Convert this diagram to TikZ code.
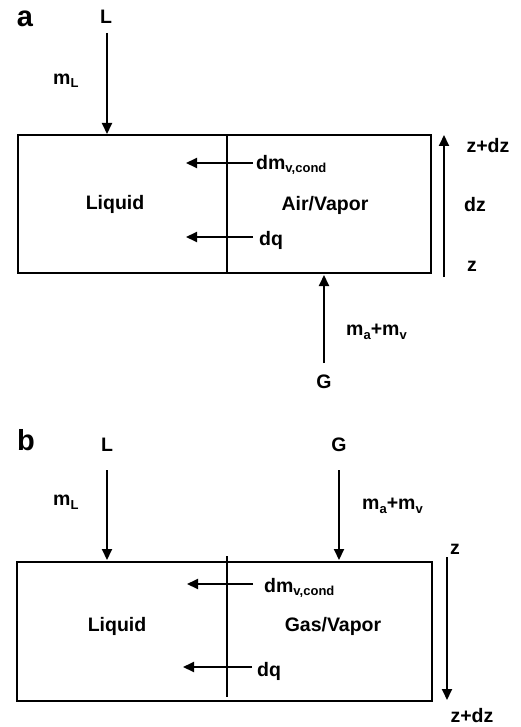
\documentclass[tikz,border=0pt]{standalone}
\usepackage{fontspec}
\setmainfont{Liberation Sans}
\usetikzlibrary{arrows.meta}
\newcommand\lowsub[1]{\raisebox{-3.5pt}{\fontsize{13pt}{14pt}\selectfont #1}}
\tikzset{
  lbl/.style={font=\fontsize{19.5pt}{21pt}\selectfont\bfseries, inner sep=0pt},
  panel/.style={font=\fontsize{29pt}{31pt}\selectfont\bfseries, inner sep=0pt},
  boxline/.style={line width=2.8pt},
  flow/.style={line width=2pt, -{Triangle[length=11pt,width=10pt]}},
  axis/.style={line width=1.8pt, -{Triangle[length=11pt,width=10pt]}},
}
\begin{document}
\begin{tikzpicture}[x=1pt,y=-1pt]
\useasboundingbox (0,0) rectangle (520,727);
\fill[white] (0,0) rectangle (520,727);
% ---------- panel a ----------
\node[panel] (pa) at (25,19) {a};
\draw[boxline] (18,135) rectangle (431,273);
\coordinate (adivT) at (227,135);
\coordinate (adivB) at (227,273);
\draw[boxline] (adivT) -- (adivB);
\node[lbl] (aL) at (106,17) {L};
\coordinate (aLs) at (107,33);
\coordinate (aLe) at (107,134);
\draw[flow] (aLs) -- (aLe);
\node[lbl, anchor=west] (amL) at (53,81) {m\lowsub{L}};
\node[lbl] (aliq) at (115,204) {Liquid};
\node[lbl] (avap) at (325,205) {Air/Vapor};
\coordinate (adms) at (253,163);
\coordinate (adme) at (186,163);
\draw[flow] (adms) -- (adme);
\node[lbl, anchor=west] (adm) at (256,165) {dm\lowsub{v,cond}};
\coordinate (adqs) at (253,237);
\coordinate (adqe) at (186,237);
\draw[flow] (adqs) -- (adqe);
\node[lbl, anchor=west] (adq) at (259,240) {dq};
\coordinate (azs) at (444,277);
\coordinate (aze) at (444,135);
\draw[axis] (azs) -- (aze);
\node[lbl] (azdz) at (488,146) {z+dz};
\node[lbl] (adz) at (475,205) {dz};
\node[lbl] (az) at (472,266) {z};
\node[lbl] (aG) at (324,382) {G};
\coordinate (aGs) at (324,363);
\coordinate (aGe) at (324,275);
\draw[flow] (aGs) -- (aGe);
\node[lbl, anchor=west] (amav) at (346,332) {m\lowsub{a}+m\lowsub{v}};
% ---------- panel b ----------
\node[panel] (pb) at (26,440) {b};
\draw[boxline] (17,562) rectangle (432,701);
\coordinate (bdivT) at (227,556);
\coordinate (bdivB) at (227,697);
\draw[boxline] (bdivT) -- (bdivB);
\node[lbl] (bL) at (107,445) {L};
\coordinate (bLs) at (107,470);
\coordinate (bLe) at (107,560);
\draw[flow] (bLs) -- (bLe);
\node[lbl, anchor=west] (bmL) at (53,502) {m\lowsub{L}};
\node[lbl] (bG) at (339,445) {G};
\coordinate (bGs) at (339,470);
\coordinate (bGe) at (339,560);
\draw[flow] (bGs) -- (bGe);
\node[lbl, anchor=west] (bmav) at (362,506) {m\lowsub{a}+m\lowsub{v}};
\node[lbl] (bliq) at (117,626) {Liquid};
\node[lbl] (bvap) at (333,626) {Gas/Vapor};
\coordinate (bdms) at (253,584);
\coordinate (bdme) at (187,584);
\draw[flow] (bdms) -- (bdme);
\node[lbl, anchor=west] (bdm) at (264,588) {dm\lowsub{v,cond}};
\coordinate (bdqs) at (252,667);
\coordinate (bdqe) at (183,667);
\draw[flow] (bdqs) -- (bdqe);
\node[lbl, anchor=west] (bdq) at (257,671) {dq};
\coordinate (bzs) at (447,557);
\coordinate (bze) at (447,700);
\draw[axis] (bzs) -- (bze);
\node[lbl] (bz) at (455,549) {z};
\node[lbl] (bzdz) at (472,716) {z+dz};
\end{tikzpicture}
\end{document}
